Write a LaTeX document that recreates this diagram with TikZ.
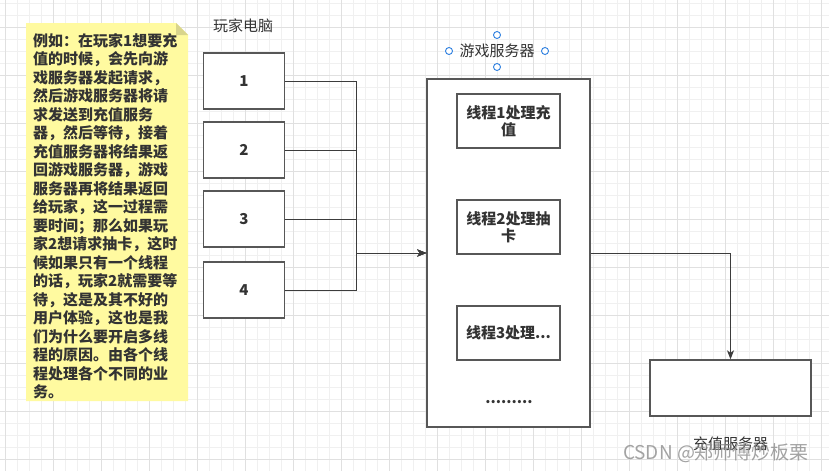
\documentclass[tikz,border=0pt]{standalone}
\usepackage{fontspec}
\setmainfont{Noto Sans CJK SC}
\usepackage{tikz}
\usetikzlibrary{arrows.meta, positioning, calc}
\definecolor{inkGray}{HTML}{333333}
\definecolor{boxGray}{HTML}{575757}
\definecolor{lineGray}{HTML}{3C3C3C}
\definecolor{noteFill}{HTML}{FFFAA0}
\definecolor{noteFold}{HTML}{D9D58C}
\definecolor{handleBlue}{HTML}{2D7FE0}
\tikzset{
  block/.style = {draw=boxGray, line width=1.4pt, fill=white, align=center, text=inkGray, font=\bfseries\fontsize{15}{17}\selectfont},
  arrow/.style = {-{Stealth[length=9pt, width=7pt, inset=2.5pt]}, line width=1pt, draw=lineGray}
}

\begin{document}
\begin{tikzpicture}[x=1pt, y=-1pt]
  \colorlet{gridMinor}{black!6}
  \colorlet{gridMajor}{black!12}
  \tikzset{
    labelStyle/.style={font=\fontsize{15}{18}\selectfont, text=inkGray},
    noteText/.style={font=\bfseries\fontsize{15}{18.5}\selectfont, text=inkGray, align=left, inner sep=0pt},
    handle/.style={draw=handleBlue, fill=white, line width=0.9pt}
  }

  \def\Pw{81}
  \def\Ph{56}
  \def\Tw{103}
  \def\Th{54}

  \useasboundingbox (0,0) rectangle (829,471);
  \fill[white] (0,0) rectangle (829,471);
  \foreach \gx in {5.5,17.5,...,829} \draw[gridMinor, line width=0.8pt] (\gx,0) -- (\gx,471);
  \foreach \gy in {3.5,15.5,...,471} \draw[gridMinor, line width=0.8pt] (0,\gy) -- (829,\gy);
  \foreach \gx in {5.5,53.5,...,829} \draw[gridMajor, line width=0.8pt] (\gx,0) -- (\gx,471);
  \foreach \gy in {27.5,75.5,...,471} \draw[gridMajor, line width=0.8pt] (0,\gy) -- (829,\gy);

  \fill[noteFill] (26,23) -- (176,23) -- (188,35) -- (188,401) -- (26,401) -- cycle;
  \fill[noteFold] (176,23) -- (176,35) -- (188,35) -- cycle;
  \node[noteText, anchor=north west] (note) at (33,33) {例如：在玩家1想要充\\值的时候，会先向游\\戏服务器发起请求，\\然后游戏服务器将请\\求发送到充值服务\\器，然后等待，接着\\充值服务器将结果返\\回游戏服务器，游戏\\服务器再将结果返回\\给玩家，这一过程需\\要时间；那么如果玩\\家2想请求抽卡，这时\\候如果只有一个线程\\的话，玩家2就需要等\\待，这是及其不好的\\用户体验，这也是我\\们为什么要开启多线\\程的原因。由各个线\\程处理各个不同的业\\务。};

  \node[labelStyle] (pcLabel) at (243,26) {玩家电脑};
  \node[block, minimum width=\Pw, minimum height=\Ph] (pc1) at (244,81) {1};
  \node[block, minimum width=\Pw, minimum height=\Ph] (pc2) at (244,150) {2};
  \node[block, minimum width=\Pw, minimum height=\Ph] (pc3) at (244,219) {3};
  \node[block, minimum width=\Pw, minimum height=\Ph] (pc4) at (244,290) {4};

  \node[labelStyle] (srvLabel) at (497,51) {游戏服务器};
  \draw[handle] (497,35) circle (3.5pt);
  \draw[handle] (497,67) circle (3.5pt);
  \draw[handle] (449,51) circle (3.5pt);
  \draw[handle] (545,51) circle (3.5pt);
  \node[block, minimum width=163, minimum height=348] (srv) at (508.5,253) {};
  \node[block, minimum width=\Tw, minimum height=\Th] (th1) at (508.5,121) {线程1处理充\\值};
  \node[block, minimum width=\Tw, minimum height=\Th] (th2) at (508.5,227) {线程2处理抽\\卡};
  \node[block, minimum width=\Tw, minimum height=\Th] (th3) at (508.5,333) {线程3处理...};
  \node[labelStyle, font=\bfseries\fontsize{15}{18}\selectfont] (dots) at (509,402) {.........};

  \node[block, minimum width=161, minimum height=56] (chg) at (730.5,388) {};
  \node[labelStyle] (chgLabel) at (730.5,444) {充值服务器};

  \coordinate (jn) at (356,253);
  \foreach \p in {pc1,pc2,pc3,pc4}
    \draw[arrow] (\p.east) -| (jn) -- (srv.west);
  \draw[arrow] (srv.east) -| (chg.north);

  \node[text=black!45, opacity=0.8, font=\fontsize{19}{22}\selectfont] (mark) at (716,453) {CSDN @郑师傅炒板栗};
\end{tikzpicture}
\end{document}
